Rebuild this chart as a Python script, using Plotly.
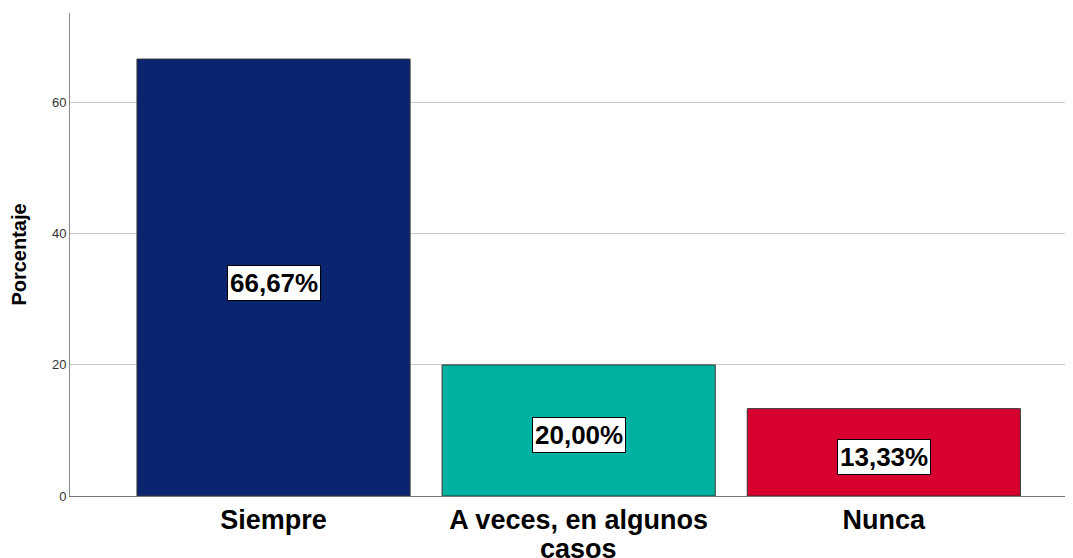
import plotly.graph_objects as go

categories = ["Siempre", "A veces, en algunos", "Nunca"]
category_wrap = ["", "casos", ""]
values = [66.67, 20.00, 13.33]
labels = ["66,67%", "20,00%", "13,33%"]
colors = ["#0b2470", "#00b2a1", "#d8002f"]
y_ticks = [0, 20, 40, 60]

FONT = "Liberation Sans, Arial"

fig = go.Figure()
fig.add_trace(go.Bar(
    x=list(range(len(categories))), y=values,
    marker=dict(color=colors, line=dict(color="#333333", width=1)),
    width=0.895, hoverinfo="skip",
))

for i, (v, lab) in enumerate(zip(values, labels)):
    fig.add_annotation(
        x=i, y=v / 2, text="<b>" + lab + "</b>", showarrow=False,
        yshift=-5,
        font=dict(family=FONT, size=26, color="black"),
        bgcolor="white", bordercolor="black", borderwidth=1, borderpad=2,
    )

for i, w in enumerate(category_wrap):
    if w:
        fig.add_annotation(
            x=i, xref="x", y=0, yref="paper", yanchor="top",
            yshift=-36, text="<b>" + w + "</b>", showarrow=False,
            font=dict(family=FONT, size=27, color="black"),
        )

fig.update_layout(
    width=1065, height=550,
    margin=dict(l=62, r=0, t=5, b=62),
    plot_bgcolor="white", paper_bgcolor="white",
    showlegend=False,
    font=dict(family=FONT),
)
fig.update_xaxes(
    range=[-0.667, 2.62],
    tickmode="array", tickvals=list(range(len(categories))),
    ticktext=["<b>" + c + "</b>" for c in categories],
    tickfont=dict(size=27, color="black"),
    showgrid=False, showline=True, linecolor="#777777", linewidth=1,
    ticks="",
)
fig.update_yaxes(
    range=[0, 73.7],
    tickmode="array", tickvals=y_ticks,
    tickfont=dict(size=13, color="#333333"),
    showgrid=True, gridcolor="#c8c8c8", gridwidth=1,
    zeroline=False, showline=True, linecolor="#888888", linewidth=1,
    title=dict(text="<b>Porcentaje</b>", font=dict(size=20, color="black"), standoff=19),
    ticks="", ticklen=0,
)

fig.write_html("out.html")
